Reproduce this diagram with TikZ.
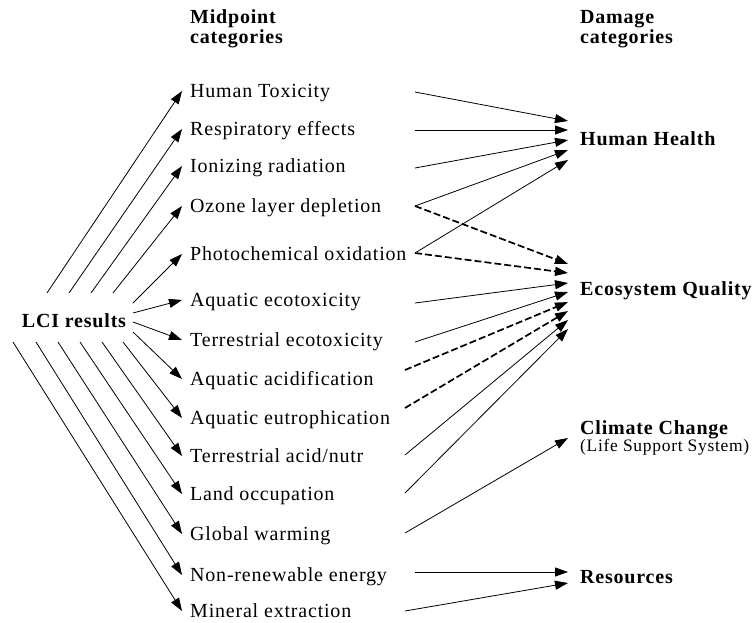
\documentclass[tikz,border=0pt]{standalone}
\usepackage{fontspec}
\setmainfont{Liberation Serif}[LetterSpace=4]
\usetikzlibrary{arrows.meta,positioning,calc}
\tikzset{>={Triangle[length=13pt,width=9pt]}}
\tikzset{
  midcat/.style={anchor=west,inner xsep=8pt,inner ysep=0pt,text height=15pt,text depth=2pt},
  dmgcat/.style={anchor=west,inner xsep=12pt,inner ysep=0pt,text height=15pt,text depth=2pt,font=\fontsize{20}{20}\selectfont\bfseries},
  head/.style={anchor=west,inner xsep=8pt,align=left,font=\fontsize{20}{20}\selectfont\bfseries},
  link/.style={->,line width=0.8pt},
  dlink/.style={->,line width=1.7pt,dash pattern=on 7pt off 3pt}
}

\begin{document}
\begin{tikzpicture}[x=1pt,y=-1pt,every node/.style={font=\fontsize{20}{20}\selectfont}]
  \useasboundingbox (0,0) rectangle (752,622);
  % column heads
  \node[head] (midhead) at (182,29) {Midpoint\\categories};
  \node[head,inner xsep=12pt] (dmghead) at (568,29) {Damage\\categories};
  \node[font=\fontsize{20}{20}\selectfont\bfseries] (lci) at (74,321) {LCI results};
  % midpoint categories
  \foreach \n/\y/\t in {
    ht/91/Human Toxicity,
    re/129/Respiratory effects,
    ir/166/Ionizing radiation,
    oz/206/Ozone layer depletion,
    pc/254/Photochemical oxidation,
    ae/300/Aquatic ecotoxicity,
    te/340/Terrestrial ecotoxicity,
    aa/379/Aquatic acidification,
    eu/418/Aquatic eutrophication,
    ta/456/{Terrestrial acid/nutr},
    lo/494/Land occupation,
    gw/534/Global warming,
    nr/575/Non-renewable energy,
    me/611/Mineral extraction
  }{
    \node[midcat] (\n) at (182,\y) {\t};
  }
  % damage categories
  \node[dmgcat] (hh) at (568,139) {Human Health};
  \node[dmgcat] (eq) at (568,289) {Ecosystem Quality};
  \node[dmgcat,align=left,text height=,text depth=] (cc) at (568,438)
    {Climate Change\\[-3pt]{\fontsize{17.5}{17.5}\selectfont\mdseries (Life Support System)}};
  \node[dmgcat] (res) at (568,577) {Resources};
  % LCI results to midpoints
  \foreach \x/\y/\n in {47/293/ht,69/293/re,91/293/ir,113/293/oz,133/303/pc,133/313/ae,133/322/te,
    133/332/aa,123/342/eu,102/342/ta,80/342/lo,58/342/gw,36/342/nr,13/342/me}{
    \coordinate (l\n) at (\x,\y);
    \draw[link] (l\n) -- (\n.west);
  }
  % midpoints to damage
  \foreach \n/\x/\y in {ht/415/92,re/415/130,ir/415/168,oz/415/206,pc/415/253,ae/415/303,te/415/342,
    aa/405/370,eu/405/408,ta/405/455,lo/405/493,gw/405/533,nr/415/572,me/405/611}{
    \coordinate (r\n) at (\x,\y);
  }
  \foreach \n/\d in {ht/-18,re/-9,ir/1,oz/11,pc/21}
    \draw[link] (r\n) -- ($(hh.west)+(0,\d)$);
  \foreach \n/\d/\s in {oz/-25/dlink,pc/-16/dlink,ae/-6/link,te/3/link,aa/13/dlink,eu/22/dlink,ta/31/link,lo/40/link}
    \draw[\s] (r\n) -- ($(eq.west)+(0,\d)$);
  \draw[link] (rgw) -- (cc.west);
  \draw[link] (rnr) -- ($(res.west)+(0,-5)$);
  \draw[link] (rme) -- ($(res.west)+(0,6)$);
\end{tikzpicture}
\end{document}
